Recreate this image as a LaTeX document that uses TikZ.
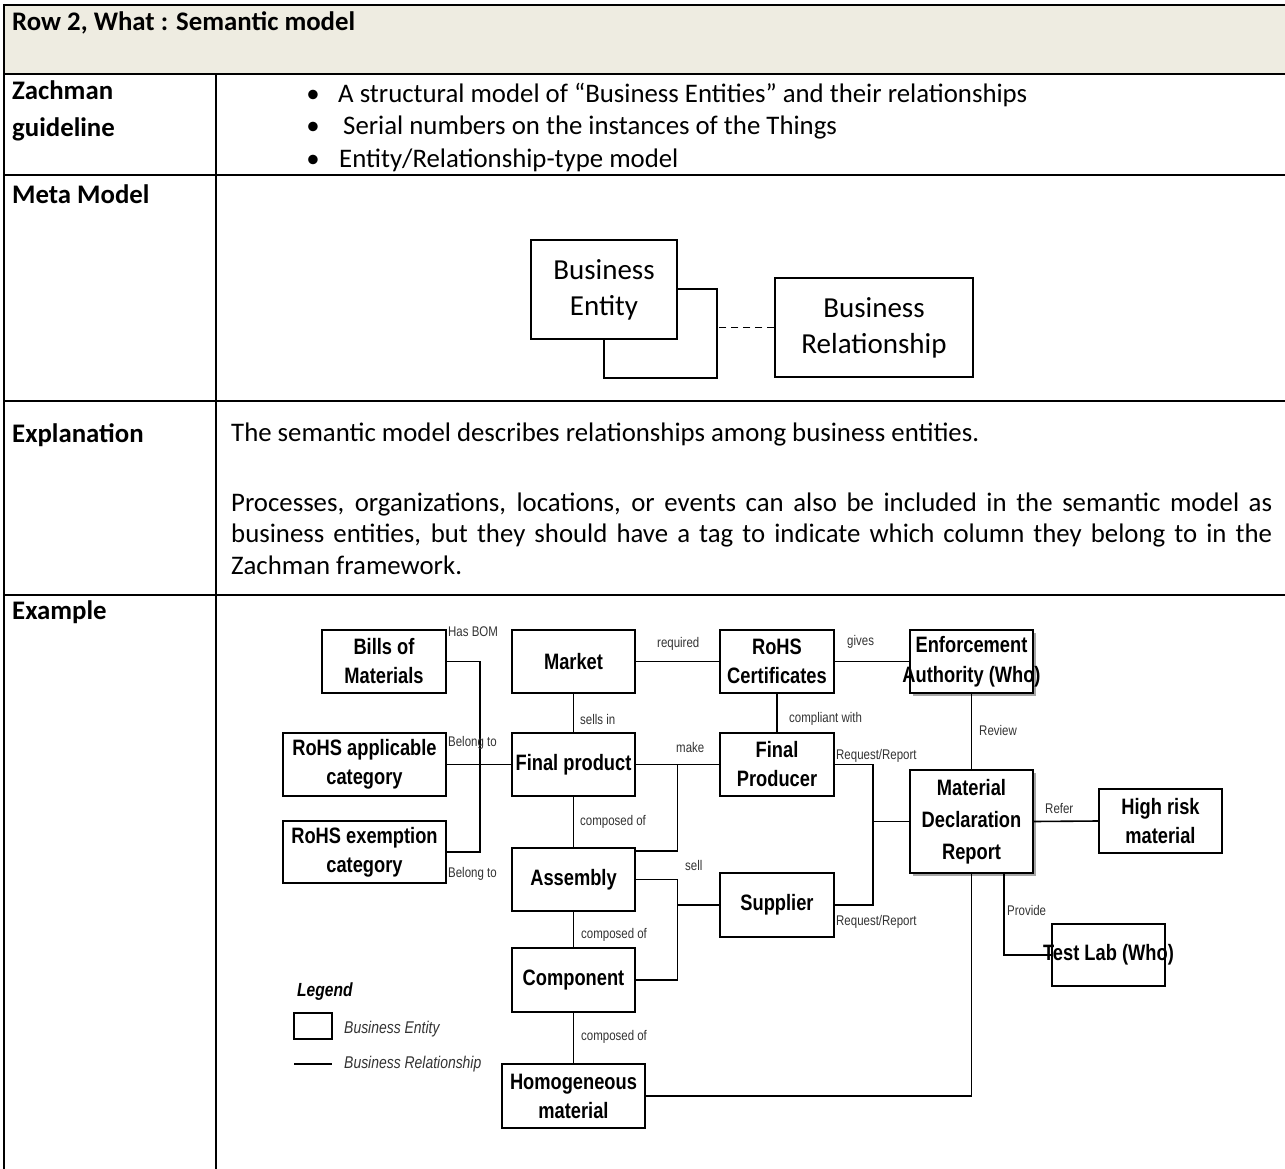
\documentclass[tikz,border=0pt]{standalone}
\usepackage{fontspec}
\setmainfont{Carlito}
\newfontfamily\arn[FakeStretch=0.82]{Liberation Sans}
\usetikzlibrary{calc,shadows}
\definecolor{headfill}{HTML}{EEECE1}
\definecolor{labgray}{HTML}{333333}

\tikzset{
  tline/.style={line width=2pt},
  cell/.style={anchor=base west, inner sep=0pt, font={\fontsize{26.8}{31}\selectfont}},
  cellhead/.style={anchor=base west, inner sep=0pt, font={\bfseries\fontsize{26.8}{31}\selectfont}},
  meta/.style={draw, line width=1.5pt, fill=white, align=center, inner sep=0pt,
    font={\fontsize{29}{36}\selectfont}},
  ent/.style={draw, line width=1.8pt, fill=white, align=center, inner sep=0pt,
    font={\arn\bfseries\fontsize{22.3}{29}\selectfont}},
  enttext/.style={align=center, inner sep=0pt, font={\arn\bfseries\fontsize{22.3}{30}\selectfont}},
  shade/.style={drop shadow={shadow xshift=2.5pt, shadow yshift=-2.5pt, opacity=0.35, fill=black}},
  rel/.style={line width=1.6pt},
  lab/.style={anchor=west, inner sep=0pt, text=labgray, font={\arn\fontsize{14}{16}\selectfont}},
  legtxt/.style={anchor=base west, inner sep=0pt, text=labgray, font={\arn\itshape\fontsize{17}{20}\selectfont}},
}

\begin{document}
\begin{tikzpicture}[x=1pt, y=-1pt]
  \useasboundingbox (0,0) rectangle (1285,1169);
  \fill[white] (0,0) rectangle (1285,1169);

  % ---------- table frame ----------
  \fill[headfill] (4,5) rectangle (1285,74);
  \foreach \yy in {5,74,175,401,595} \draw[tline] (3,\yy) -- (1285,\yy);
  \draw[tline] (4,4) -- (4,1169);
  \draw[tline] (216,74) -- (216,1169);

  % ---------- row labels ----------
  \node[cellhead] (hdr) at (12,31) {Row 2, What : Semantic model};
  \node[cellhead] (zl1) at (12,100) {Zachman};
  \node[cellhead] (zl2) at (12,137) {guideline};
  \node[cellhead] (mml) at (12,204) {Meta Model};
  \node[cellhead] (exl) at (12,442) {Explanation};
  \node[cellhead] (eml) at (12,619) {Example};

  % ---------- guideline bullets ----------
  \node[cell, anchor=base] (b1) at (313,103) {•};
  \node[cell, anchor=base] (b2) at (313,135) {•};
  \node[cell, anchor=base] (b3) at (313,168) {•};
  \node[cell] (g1) at (338,103) {A structural model of “Business Entities” and their relationships};
  \node[cell] (g2) at (343,135) {Serial numbers on the instances of the Things};
  \node[cell] (g3) at (339,168) {Entity/Relationship-type model};

  % ---------- meta model ----------
  \node[meta, minimum width=113pt, minimum height=89pt] (be2) at (660.5,333.5) {};
  \node[meta, minimum width=146pt, minimum height=99pt] (be1) at (604,289.5) {Business\\Entity};
  \node[meta, minimum width=198pt, minimum height=99pt] (br) at (874,327.5) {Business\\Relationship};
  \draw[line width=1.5pt, dash pattern=on 7pt off 5pt] (br.west) -- (br.west -| be2.east);

  % ---------- explanation ----------
  \node[cell] (e1) at (231,441) {The semantic model describes relationships among business entities.};
  \node[cell] (e2) at (231,511) {\makebox[1041pt][s]{Processes, organizations, locations, or events can also be included in the semantic model as}};
  \node[cell] (e3) at (231,542) {\makebox[1041pt][s]{business entities, but they should have a tag to indicate which column they belong to in the}};
  \node[cell] (e4) at (231,574) {Zachman framework.};

  % ---------- example: entities ----------
  \node[ent, minimum width=124pt, minimum height=63pt] (bom) at (384,661.5) {Bills of\\Materials};
  \node[ent, minimum width=123pt, minimum height=63pt] (market) at (573.5,661.5) {Market};
  \node[ent, minimum width=114pt, minimum height=63pt] (cert) at (777,661.5) {RoHS\\Certificates};
  \node[ent, shade, minimum width=123pt, minimum height=63pt] (enf) at (971.5,661.5) {};
  \node[enttext] (enft) at (enf.center) {Enforcement\\Authority (Who)};
  \node[ent, minimum width=163pt, minimum height=63pt] (appl) at (364.5,764.5) {RoHS applicable\\category};
  \node[ent, minimum width=123pt, minimum height=63pt] (fprod) at (573.5,764.5) {Final product};
  \node[ent, minimum width=114pt, minimum height=63pt] (fprodr) at (777,764.5) {Final\\Producer};
  \node[ent, shade, minimum width=123pt, minimum height=103pt, font={\arn\bfseries\fontsize{22.3}{32}\selectfont}] (mdr) at (971.5,821.5) {Material\\Declaration\\Report};
  \node[ent, minimum width=123pt, minimum height=64pt] (hrisk) at (1160.5,821) {High risk\\material};
  \node[ent, minimum width=163pt, minimum height=62pt] (exempt) at (364.5,852) {RoHS exemption\\category};
  \node[ent, minimum width=123pt, minimum height=63pt] (assembly) at (573.5,879.5) {Assembly};
  \node[ent, minimum width=114pt, minimum height=64pt] (supplier) at (777,905) {Supplier};
  \node[ent, minimum width=113pt, minimum height=62pt] (testlab) at (1108.5,955) {};
  \node[ent, minimum width=123pt, minimum height=64pt] (component) at (573.5,980) {Component};
  \node[ent, minimum width=143pt, minimum height=64pt] (homog) at (573.5,1096) {Homogeneous\\material};

  % ---------- example: relationships ----------
  \draw[rel] (bom.east) -- ++(33,0) |- (exempt.east);
  \draw[rel] (appl.east) -- (fprod.west);
  \draw[rel] (market.south) -- (fprod.north);
  \draw[rel] (fprod.south) -- (assembly.north);
  \draw[rel] (assembly.south) -- (component.north);
  \draw[rel] (component.south) -- (homog.north);
  \draw[rel] (market.east) -- (cert.west);
  \draw[rel] (cert.east) -- (enf.west);
  \draw[rel] (cert.south) -- (fprodr.north);
  \draw[rel] (fprod.east) -- (fprodr.west);
  \coordinate (mk) at ($(fprod.east)!0.5!(fprodr.west)$);
  \draw[rel] (mk) |- ($(assembly.north east)+(0,4)$);
  \draw[rel] (assembly.east) -- (assembly.east -| mk) |- (component.east);
  \draw[rel] (supplier.west) -- (supplier.west -| mk);
  \draw[rel] (fprodr.east) -- ++(38,0) coordinate (rr) |- (supplier.east);
  \draw[rel] (mdr.west) -- (mdr.west -| rr);
  \draw[rel] (enf.south) -- (mdr.north);
  \draw[rel] (mdr.east) -- (hrisk.west);
  \draw[rel] ($(mdr.south)+(32.5,0)$) |- (testlab.west);
  \draw[rel] (mdr.south) |- (homog.east);
  \node[enttext] (tlt) at (testlab.center) {Test Lab (Who)};

  % ---------- relationship labels ----------
  \node[lab] (l1) at (448,632) {Has BOM};
  \node[lab] (l2) at (448,743) {Belong to};
  \node[lab] (l3) at (448,874) {Belong to};
  \node[lab] (l4) at (580,719) {sells in};
  \node[lab] (l5) at (580,822) {composed of};
  \node[lab] (l6) at (581,935) {composed of};
  \node[lab] (l7) at (581,1037) {composed of};
  \node[lab] (l8) at (657,644) {required};
  \node[lab] (l9) at (847,642) {gives};
  \node[lab] (l10) at (789,719) {compliant with};
  \node[lab] (l11) at (676,747) {make};
  \node[lab] (l12) at (685,865) {sell};
  \node[lab] (l13) at (836,756) {Request/Report};
  \node[lab] (l14) at (836,922) {Request/Report};
  \node[lab] (l15) at (979,730) {Review};
  \node[lab] (l16) at (1045,808) {Refer};
  \node[lab] (l17) at (1007,910) {Provide};

  % ---------- legend ----------
  \node[anchor=base west, inner sep=0pt, font={\arn\bfseries\itshape\fontsize{19}{22}\selectfont}] (leg) at (297,996) {Legend};
  \node[draw, line width=1.5pt, minimum width=38pt, minimum height=26pt, inner sep=0pt] (legbox) at (313,1026) {};
  \node[legtxt] (legt1) at (344,1033) {Business Entity};
  \coordinate (lega) at (294,1064);
  \coordinate (legb) at (332,1064);
  \draw[rel] (lega) -- (legb);
  \node[legtxt] (legt2) at (344,1068) {Business Relationship};
\end{tikzpicture}
\end{document}
